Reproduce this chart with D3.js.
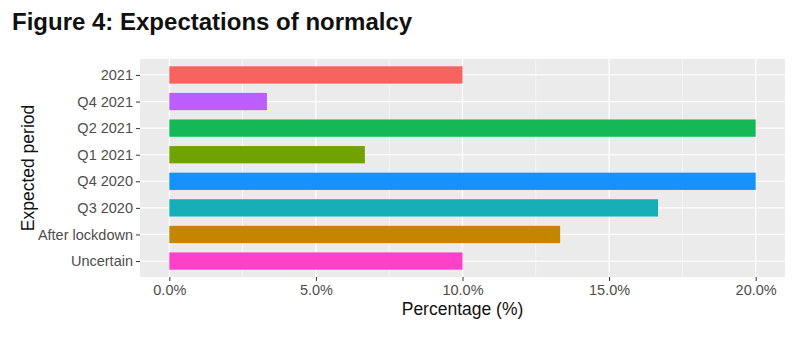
<!DOCTYPE html>
<html>
<head>
<meta charset="utf-8">
<script src="https://cdn.jsdelivr.net/npm/d3@7"></script>
<style>
  body { margin: 0; background: #fff; }
  text { font-family: "Liberation Sans", Arial, sans-serif; }
</style>
</head>
<body>
<div class="canvas"></div>
<script>
// categories top to bottom, share of respondents (%)
const periods = ["2021", "Q4 2021", "Q2 2021", "Q1 2021", "Q4 2020", "Q3 2020", "After lockdown", "Uncertain"];
const percents = [10, 3.33, 20, 6.67, 20, 16.67, 13.33, 10];
const barColors = ["#F8635F", "#BB5EFF", "#15B857", "#70A300", "#1592FF", "#17AFB7", "#C48500", "#FF40C9"];
const xTicks = [0, 5, 10, 15, 20];

const svgWidth = 800, svgHeight = 338;
const panel = {left: 140, right: 785, top: 59, bottom: 277};

const svg = d3.select('.canvas').append('svg')
  .attr('width', svgWidth)
  .attr('height', svgHeight);

svg.append('text')
  .attr('x', 12).attr('y', 30)
  .attr('font-size', 24).attr('font-weight', 'bold')
  .attr('fill', '#111')
  .text('Figure 4: Expectations of normalcy');

// ggplot-like expansion: 5% on continuous, 0.6 on discrete
const x = d3.scaleLinear().domain([-1, 21]).range([panel.left, panel.right]);
const y = d3.scalePoint().domain(periods).range([panel.top, panel.bottom]).padding(0.6);
const step = y.step();
const barH = step * 0.65;

svg.append('rect')
  .attr('x', panel.left).attr('y', panel.top)
  .attr('width', panel.right - panel.left).attr('height', panel.bottom - panel.top)
  .attr('fill', '#EBEBEB');

const grid = svg.append('g');
// minor
grid.selectAll('.minor').data([2.5, 7.5, 12.5, 17.5]).enter().append('line')
  .attr('x1', d => x(d)).attr('x2', d => x(d))
  .attr('y1', panel.top).attr('y2', panel.bottom)
  .attr('stroke', '#fff').attr('stroke-width', 0.6);
grid.selectAll('.major').data(xTicks).enter().append('line')
  .attr('x1', d => x(d)).attr('x2', d => x(d))
  .attr('y1', panel.top).attr('y2', panel.bottom)
  .attr('stroke', '#fff').attr('stroke-width', 1.2);
grid.selectAll('.hz').data(periods).enter().append('line')
  .attr('x1', panel.left).attr('x2', panel.right)
  .attr('y1', d => y(d)).attr('y2', d => y(d))
  .attr('stroke', '#fff').attr('stroke-width', 1.2);

svg.selectAll('.bar').data(periods).enter().append('rect')
  .attr('x', x(0))
  .attr('y', d => y(d) - barH / 2)
  .attr('width', (d, i) => x(percents[i]) - x(0))
  .attr('height', barH)
  .attr('fill', (d, i) => barColors[i]);

// axes
const yAxis = svg.append('g')
  .attr('transform', `translate(${panel.left},0)`)
  .call(d3.axisLeft(y).tickSize(4).tickPadding(3));
const xAxis = svg.append('g')
  .attr('transform', `translate(0,${panel.bottom})`)
  .call(d3.axisBottom(x).tickValues(xTicks).tickFormat(d => d.toFixed(1) + '%').tickSize(4).tickPadding(4));

[yAxis, xAxis].forEach(a => {
  a.select('.domain').remove();
  a.selectAll('.tick line').attr('stroke', '#333').attr('stroke-width', 1);
  a.selectAll('.tick text').attr('fill', '#4D4D4D').attr('font-size', 14.5)
    .attr('font-family', '"Liberation Sans", Arial, sans-serif');
});

svg.append('text')
  .attr('x', (panel.left + panel.right) / 2).attr('y', 315)
  .attr('text-anchor', 'middle').attr('font-size', 17.5).attr('fill', '#111')
  .text('Percentage (%)');

svg.append('text')
  .attr('transform', `translate(34,${(panel.top + panel.bottom) / 2}) rotate(-90)`)
  .attr('text-anchor', 'middle').attr('font-size', 17.5).attr('fill', '#111')
  .text('Expected period');
</script>
</body>
</html>
